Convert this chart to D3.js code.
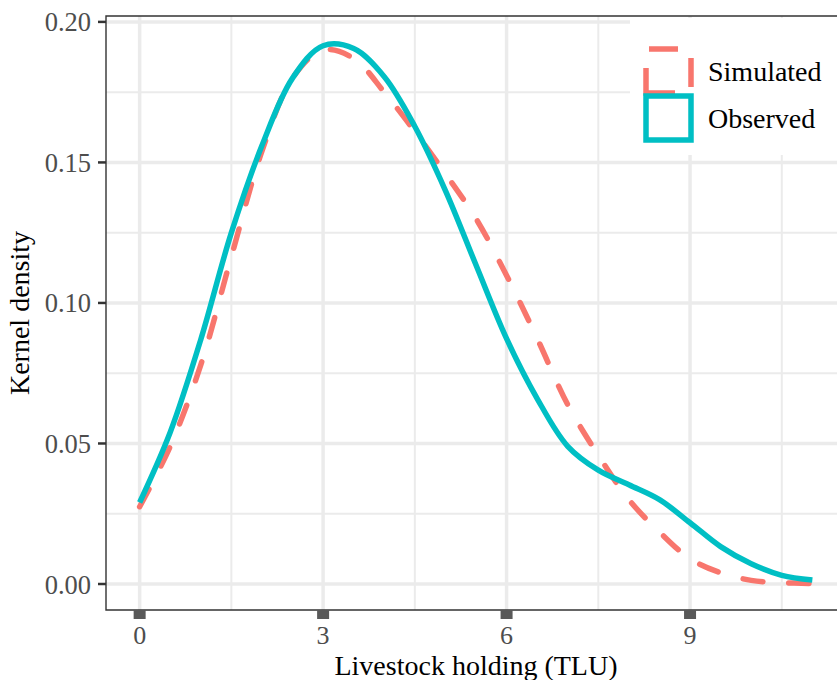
<!doctype html>
<html lang="en">
	<head>
		<meta charset="utf-8">
		<title>Kernel density</title>
		<style>
			html, body { margin: 0; padding: 0; background: #fff; overflow: hidden; }
			svg { display: block; font-family: "Liberation Serif", "DejaVu Serif", serif; }
		</style>
	</head>
	<body>
		<svg id="svg_main"></svg>

	<script src="https://cdn.jsdelivr.net/npm/d3@7/dist/d3.min.js"></script>
	<script>
		// values, x in TLU
		var tlu = [0, 0.5, 1, 1.5, 2, 2.5, 3, 3.5, 4, 4.5, 5, 5.5, 6, 6.5, 7, 7.5, 8, 8.5, 9, 9.5, 10, 10.5, 11];
		var observed = [0.029, 0.054, 0.087, 0.125, 0.156, 0.180, 0.1915, 0.1905, 0.1805, 0.1628, 0.140, 0.1135,
			0.0873, 0.066, 0.049, 0.0405, 0.0353, 0.030, 0.0218, 0.0133, 0.0072, 0.0031, 0.0014];
		var simulated = [0.0275, 0.049, 0.078, 0.1165, 0.154, 0.180, 0.190, 0.187, 0.175, 0.161, 0.146, 0.130,
			0.1098, 0.0874, 0.0638, 0.0458, 0.030, 0.0185, 0.009, 0.004, 0.0013, 0.0005, 0.0002];
		var xTicks = [0, 3, 6, 9];
		var xMinor = [1.5, 4.5, 7.5, 10.5];
		var yTicks = [0, 0.05, 0.10, 0.15, 0.20];
		var yMinor = [0.025, 0.075, 0.125, 0.175];
		var seriesNames = ["Simulated", "Observed"];
		var seriesColors = ["#F8766D", "#00BFC4"];

		var W = 837, H = 680;
		var panel = {left: 106, top: 16, right: 846, bottom: 610};

		var x = d3.scaleLinear().domain([-0.55, 11.55]).range([panel.left, panel.right]);
		var y = d3.scaleLinear().domain([-0.00925, 0.2021]).range([panel.bottom, panel.top]);

		var svg = d3.select("#svg_main").attr("width", W).attr("height", H);

		var grid = svg.append("g").attr("id", "grid");
		grid.selectAll("line.ymin").data(yMinor).enter().append("line")
		.attr("x1", panel.left).attr("x2", panel.right)
		.attr("y1", y).attr("y2", y)
		.attr("stroke", "#EBEBEB").attr("stroke-width", 2);
		grid.selectAll("line.xmin").data(xMinor).enter().append("line")
		.attr("y1", panel.top).attr("y2", panel.bottom)
		.attr("x1", x).attr("x2", x)
		.attr("stroke", "#EBEBEB").attr("stroke-width", 2);
		grid.selectAll("line.ymaj").data(yTicks).enter().append("line")
		.attr("x1", panel.left).attr("x2", panel.right)
		.attr("y1", y).attr("y2", y)
		.attr("stroke", "#EBEBEB").attr("stroke-width", 3.5);
		grid.selectAll("line.xmaj").data(xTicks).enter().append("line")
		.attr("y1", panel.top).attr("y2", panel.bottom)
		.attr("x1", x).attr("x2", x)
		.attr("stroke", "#EBEBEB").attr("stroke-width", 3.5);

		// density curves
		var line = d3.line()
		.x(function(d){ return x(d[0]); })
		.y(function(d){ return y(d[1]); })
		.curve(d3.curveCatmullRom);

		var curves = svg.append("g").attr("id", "curves");
		curves.append("path")
		.datum(d3.zip(tlu, simulated))
		.attr("d", line)
		.attr("fill", "none")
		.attr("stroke", seriesColors[0]).attr("stroke-width", 5.5)
		.attr("stroke-linecap", "round")
		.attr("stroke-dasharray", "20,26");
		curves.append("path")
		.datum(d3.zip(tlu, observed))
		.attr("d", line)
		.attr("fill", "none")
		.attr("stroke", seriesColors[1]).attr("stroke-width", 5.5)
		.attr("stroke-linejoin", "round");

		// legend sits inside the panel, over the grid
		var legend = svg.append("g").attr("id", "legend");
		legend.append("rect")
		.attr("x", 630).attr("y", 18).attr("width", 220).attr("height", 137)
		.attr("fill", "#fff");
		var keys = legend.selectAll("g").data(seriesNames).enter().append("g")
		.attr("transform", function(d, i){ return "translate(646," + (49 + i * 47) + ")"; });
		keys.append("path")
		.attr("d", "M0,44H45V0H0Z")
		.attr("fill", "none")
		.attr("stroke", function(d, i){ return seriesColors[i]; })
		.attr("stroke-width", 5.5)
		.attr("stroke-dasharray", function(d, i){ return i == 0 ? "29,22" : null; });
		keys.append("text")
		.attr("x", 62).attr("y", 32)
		.attr("font-size", 28)
		.attr("fill", "#000")
		.text(function(d){ return d; });

		// panel border (right side falls outside the picture)
		svg.append("path")
		.attr("d", "M" + W + "," + panel.top + "H" + panel.left + "V" + panel.bottom + "H" + W)
		.attr("fill", "none").attr("stroke", "#333").attr("stroke-width", 1.4);

		// y axis
		var yAxis = svg.append("g").attr("id", "yaxis");
		yAxis.selectAll("line").data(yTicks).enter().append("line")
		.attr("x1", panel.left - 8).attr("x2", panel.left)
		.attr("y1", y).attr("y2", y)
		.attr("stroke", "#333").attr("stroke-width", 2.5);
		yAxis.selectAll("text").data(yTicks).enter().append("text")
		.attr("x", panel.left - 15)
		.attr("y", function(d){ return y(d) + 9.5; })
		.attr("text-anchor", "end")
		.attr("font-size", 26.5)
		.attr("fill", "#4D4D4D")
		.text(d3.format(".2f"));

		// x axis, ticks drawn as short thick bars
		var xAxis = svg.append("g").attr("id", "xaxis");
		xAxis.selectAll("line").data(xTicks).enter().append("line")
		.attr("x1", x).attr("x2", x)
		.attr("y1", panel.bottom).attr("y2", panel.bottom + 9)
		.attr("stroke", "#595959").attr("stroke-width", 12);
		xAxis.selectAll("text").data(xTicks).enter().append("text")
		.attr("x", x)
		.attr("y", 644)
		.attr("text-anchor", "middle")
		.attr("font-size", 26)
		.attr("fill", "#4D4D4D")
		.text(function(d){ return d; });

		svg.append("text")
		.attr("x", (panel.left + panel.right) / 2).attr("y", 675)
		.attr("text-anchor", "middle")
		.attr("font-size", 28)
		.text("Livestock holding (TLU)");

		svg.append("text")
		.attr("transform", "translate(29," + (panel.top + panel.bottom) / 2 + ") rotate(-90)")
		.attr("text-anchor", "middle")
		.attr("font-size", 28)
		.text("Kernel density");
	</script>
	</body>
</html>
